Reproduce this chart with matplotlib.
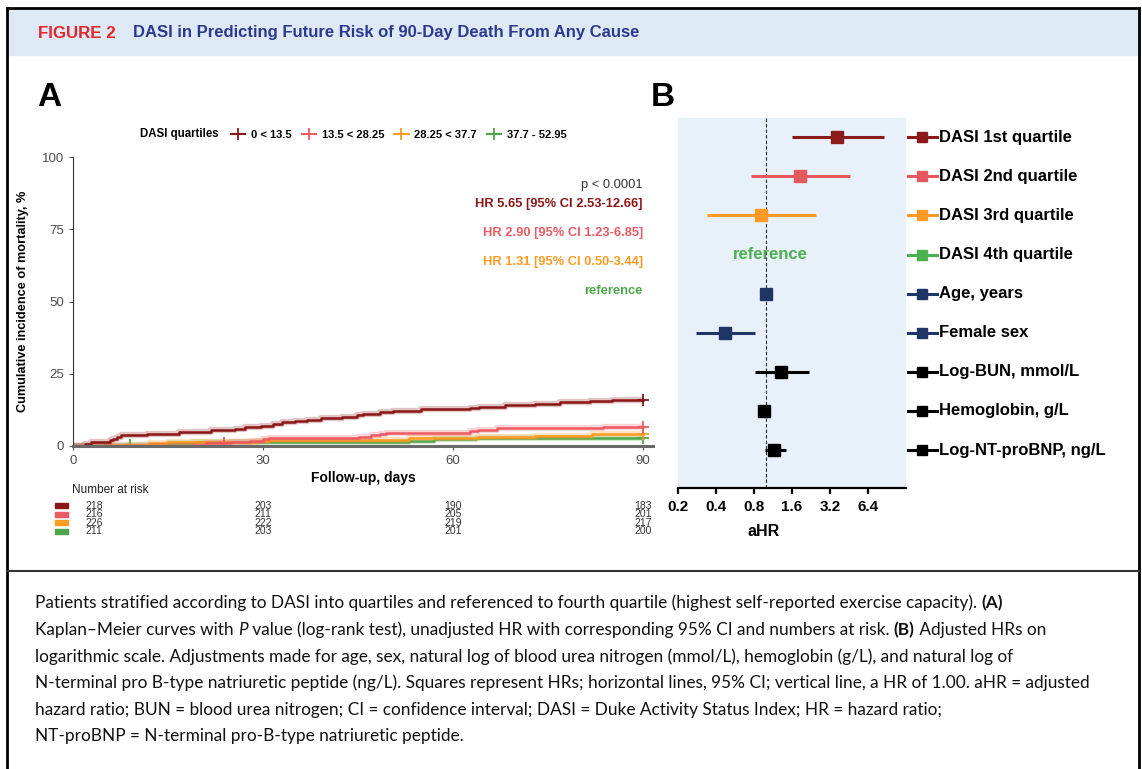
import numpy as np
import matplotlib.pyplot as plt
from matplotlib.patches import Rectangle
from matplotlib.lines import Line2D
import matplotlib.transforms as mtransforms

# ---------------- data ----------------
# Kaplan-Meier cumulative incidence (%), step changes
q1_days = [0, 1.9, 2.9, 5.8, 6.3, 7.0, 7.6, 11.7, 16.8, 21.8, 25.6, 27.2, 29.7, 31.6, 33.0,
           35.0, 37.0, 39.1, 42.5, 44.8, 45.8, 48.5, 50.6, 55.0, 62.7, 64.1, 68.2, 72.9,
           76.9, 81.7, 85.1]
q1_pct = [0, 0.8, 1.4, 2.0, 2.5, 3.1, 3.7, 4.3, 4.7, 5.5, 6.0, 6.6, 7.0, 7.6, 8.2,
          8.6, 9.1, 9.6, 10.1, 10.6, 11.1, 11.6, 12.1, 12.7, 13.1, 13.6, 14.1, 14.6,
          15.2, 15.7, 16.0]
q2_days = [0, 19.0, 21.0, 25.0, 28.0, 30.0, 31.0, 45.2, 47.0, 48.4, 49.5, 62.7, 64.0, 67.0, 83.7]
q2_pct = [0, 0.5, 0.9, 1.4, 1.9, 2.3, 2.8, 3.2, 3.7, 4.2, 4.6, 5.1, 5.6, 6.1, 6.5]
q3_days = [0, 4.9, 12.0, 15.0, 29.0, 31.0, 53.0, 64.0, 73.0, 82.0]
q3_pct = [0, 0.45, 0.9, 1.3, 1.8, 2.2, 2.7, 3.1, 3.5, 4.0]
q4_days = [0, 8.5, 15.0, 19.0, 53.0, 57.0, 63.7]
q4_pct = [0, 0.5, 0.9, 1.4, 1.9, 2.4, 2.8]
q1_censor = [90]
q2_censor = [23.9, 90]
q3_censor = [90]
q4_censor = [9.0, 90]

quartile_labels = ["0 < 13.5", "13.5 < 28.25", "28.25 < 37.7", "37.7 - 52.95"]
km_colors = ["#8b1616", "#ee5a62", "#ff9a22", "#4ea64a"]

hr_texts = ["HR 5.65 [95% CI 2.53-12.66]", "HR 2.90 [95% CI 1.23-6.85]",
            "HR 1.31 [95% CI 0.50-3.44]", "reference"]

risk_days = [0, 30, 60, 90]
risk_q1 = [218, 203, 190, 183]
risk_q2 = [216, 211, 205, 201]
risk_q3 = [226, 222, 219, 217]
risk_q4 = [211, 203, 201, 200]

# Forest plot: adjusted HR with 95% CI
forest_labels = ["DASI 1st quartile", "DASI 2nd quartile", "DASI 3rd quartile",
                 "DASI 4th quartile", "Age, years", "Female sex", "Log-BUN, mmol/L",
                 "Hemoglobin, g/L", "Log-NT-proBNP, ng/L"]
forest_hr = [3.65, 1.85, 0.91, np.nan, 1.00, 0.47, 1.32, 0.96, 1.16]
forest_lo = [1.59, 0.76, 0.34, np.nan, 0.98, 0.28, 0.81, 0.94, 0.97]
forest_hi = [8.62, 4.58, 2.50, np.nan, 1.03, 0.81, 2.19, 0.99, 1.44]
forest_colors = ["#8b1a1a", "#e5585f", "#ff9a26", "#4caf50", "#1f3566", "#1f3566",
                 "black", "black", "black"]
forest_ticks = [0.2, 0.4, 0.8, 1.6, 3.2, 6.4]

COND = ["Liberation Sans", "DejaVu Sans"]
ARIAL = ["Liberation Sans", "DejaVu Sans"]
CAP = ["Lato", "DejaVu Sans"]

W, H = 1142, 769
fig = plt.figure(figsize=(W / 100, H / 100), dpi=100)
renderer = fig.canvas.get_renderer()


def px_axes(x0, y0, x1, y1):
    return fig.add_axes([x0 / W, 1 - y1 / H, (x1 - x0) / W, (y1 - y0) / H])


def text_width(s, **kw):
    t = fig.text(0, 0, s + "|", **kw)
    w1 = t.get_window_extent(renderer=renderer).width
    t.remove()
    t = fig.text(0, 0, "|", **kw)
    w2 = t.get_window_extent(renderer=renderer).width
    t.remove()
    return w1 - w2


def fit_size(s, target, **kw):
    return 10 * target / text_width(s, fontsize=10, **kw)


# ---------------- frame, header ----------------
bg = fig.add_axes([0, 0, 1, 1])
bg.set_xlim(0, W)
bg.set_ylim(H, 0)
bg.axis("off")
bg.add_patch(Rectangle((7, 8), 1132, 47, color="#dde9f5", zorder=0))
bg.plot([7, 7], [8, H], color="black", lw=2)
bg.plot([1139, 1139], [8, H], color="black", lw=2)
bg.plot([7, 1139], [8, 8], color="black", lw=2)
bg.plot([7, 1139], [571, 571], color="#333333", lw=1.5)

fs_fig = fit_size("FIGURE 2", 82, family=ARIAL, fontweight="bold")
bg.text(38, 33, "FIGURE 2", color="#e4262c", fontsize=fs_fig * 0.95, family=ARIAL,
        fontweight="bold", va="center")
title = "DASI in Predicting Future Risk of 90-Day Death From Any Cause"
fs_title = fit_size(title, 508, family=COND, fontweight="bold")
bg.text(133, 33, title, color="#2b3990", fontsize=fs_title, family=COND,
        fontweight="bold", va="center")

bg.text(37, 98, "A", fontsize=24, fontweight="bold", family=ARIAL, va="center")
bg.text(651, 98, "B", fontsize=24, fontweight="bold", family=ARIAL, va="center")

# ---------------- panel A: Kaplan-Meier ----------------
axA = px_axes(73, 157, 653, 446)
axA.set_xlim(0, 90 * 580 / 570)
axA.set_ylim(0, 100)
series = [(q1_days, q1_pct, q1_censor), (q2_days, q2_pct, q2_censor),
          (q3_days, q3_pct, q3_censor), (q4_days, q4_pct, q4_censor)]
for (d, p, cens), c in zip(series[::-1], km_colors[::-1]):
    xs = d + [90]
    ys = p + [p[-1]]
    axA.step(xs, ys, where="post", color=c, lw=4.5, alpha=0.25, solid_capstyle="butt")
    axA.step(xs, ys, where="post", color=c, lw=1.8)
    for ct in cens:
        idx = np.searchsorted(d, ct, side="right") - 1
        axA.plot(ct, p[idx], marker="+", color=c, ms=8, mew=1.3)

for spine in ["top", "right"]:
    axA.spines[spine].set_visible(False)
axA.spines["left"].set_color("#333333")
axA.spines["left"].set_linewidth(0.8)
axA.spines["bottom"].set_color("#6a6a6a")
axA.spines["bottom"].set_linewidth(2.2)
axA.set_xticks([0, 30, 60, 90])
axA.set_yticks([0, 25, 50, 75, 100])
axA.tick_params(labelsize=9.5, colors="#4d4d4d", length=3, width=0.8)
for lab in axA.get_xticklabels() + axA.get_yticklabels():
    lab.set_family(COND)
axA.set_xlabel("Follow-up, days", fontsize=10, fontweight="bold", family=COND, labelpad=3)
axA.set_ylabel("Cumulative incidence of mortality, %", fontsize=9.2, fontweight="bold",
               family=ARIAL, labelpad=9)

ann_y = [83.7, 73.7, 63.7, 53.6]
axA.text(90, 90.3, "p < 0.0001", ha="right", va="center", fontsize=9.3, family=COND,
         color="#333333")
for txt, yy, c in zip(hr_texts, ann_y, km_colors):
    axA.text(90, yy, txt, ha="right", va="center", fontsize=9.3, family=COND,
             fontweight="bold", color=c)

# legend
bg.text(140, 134, "DASI quartiles", fontsize=8.3, fontweight="bold", family=COND, va="center")
handles = [Line2D([], [], color=c, marker="+", lw=1.5, ms=8, mew=1.3) for c in km_colors]
fig.legend(handles, quartile_labels, ncol=4, loc="center left",
           bbox_to_anchor=(231 / W, 1 - 134.5 / H), frameon=False, handlelength=1.3,
           handletextpad=0.5, columnspacing=0.9, borderaxespad=0, borderpad=0,
           prop={"family": COND, "weight": "bold", "size": 8.0})

# number at risk table
bg.text(72, 490, "Number at risk", fontsize=8.5, family=COND, va="center", color="#222222")
axR = px_axes(73, 501.5, 653, 535.5)
axR.set_xlim(axA.get_xlim())
axR.set_ylim(3.5, -0.5)
axR.axis("off")
shift = mtransforms.ScaledTranslation(12 / 100, 0, fig.dpi_scale_trans)
for i, (row, c) in enumerate(zip([risk_q1, risk_q2, risk_q3, risk_q4], km_colors)):
    bg.add_patch(Rectangle((55, 505.75 + 8.5 * i - 2.5), 13, 5, color=c))
    for d, n in zip(risk_days, row):
        if d == 0:
            axR.text(d, i, str(n), ha="left", va="center", fontsize=7.5, family=COND,
                     color="#333333", transform=axR.transData + shift)
        else:
            axR.text(d, i, str(n), ha="center", va="center", fontsize=7.5, family=COND,
                     color="#333333")

# ---------------- panel B: forest plot ----------------
axB = px_axes(678, 118, 906, 488)
axB.set_facecolor("#e8f1fa")
axB.set_xscale("log", base=2)
axB.set_xlim(0.2, 12.8)
n = len(forest_labels)
axB.set_ylim(8 + 38 / 39.1, -19.3 / 39.1)
axB.axvline(1.0, color="#222222", lw=0.8, ls=(0, (3, 2)), zorder=1)
for i in range(n):
    hr, lo, hi, c = forest_hr[i], forest_lo[i], forest_hi[i], forest_colors[i]
    if np.isnan(hr):
        continue
    axB.errorbar(hr, i, xerr=[[hr - lo], [hi - hr]], fmt="s", color=c, ms=8, lw=2.2,
                 capsize=0, zorder=3)
axB.text(1.08, 3, "reference", ha="center", va="center", color="#4caf50",
         fontsize=12, fontweight="bold", family=ARIAL)

trans = mtransforms.blended_transform_factory(axB.transAxes, axB.transData)
for i in range(n):
    c = forest_colors[i]
    axB.plot([1.009, 1.136], [i, i], transform=trans, color=c, lw=2.2, clip_on=False)
    axB.plot([1.072], [i], transform=trans, color=c, marker="s", ms=7.2, clip_on=False)
    axB.text(1.145, i, forest_labels[i], transform=trans, va="center", ha="left",
             fontsize=12, fontweight="bold", family=ARIAL)

for spine in ["top", "right", "left"]:
    axB.spines[spine].set_visible(False)
axB.spines["bottom"].set_linewidth(1.6)
axB.set_yticks([])
axB.set_xticks(forest_ticks)
axB.set_xticklabels([f"{v:g}" for v in forest_ticks])
axB.xaxis.set_minor_locator(plt.NullLocator())
axB.tick_params(axis="x", length=4.5, width=1.6, pad=4, labelsize=11)
for lab in axB.get_xticklabels():
    lab.set_fontweight("bold")
    lab.set_family(ARIAL)
axB.set_xlabel("aHR", fontsize=11.5, fontweight="bold", family=ARIAL)
axB.xaxis.set_label_coords((764 - 678) / 228, -(532 - 488) / 370)
axB.xaxis.label.set_va("center")

# ---------------- caption ----------------
R, B, I = {}, {"fontweight": "bold"}, {"fontstyle": "italic"}
caption = [
    [("Patients stratified according to DASI into quartiles and referenced to fourth quartile "
      "(highest self-reported exercise capacity). ", R), ("(A)", B)],
    [("Kaplan\u2013Meier curves with ", R), ("P", I),
     (" value (log-rank test), unadjusted HR with corresponding 95% CI and numbers at risk. ", R),
     ("(B)", B), (" Adjusted HRs on", R)],
    [("logarithmic scale. Adjustments made for age, sex, natural log of blood urea nitrogen "
      "(mmol/L), hemoglobin (g/L), and natural log of", R)],
    [("N-terminal pro B-type natriuretic peptide (ng/L). Squares represent HRs; horizontal lines, "
      "95% CI; vertical line, a HR of 1.00. aHR = adjusted", R)],
    [("hazard ratio; BUN = blood urea nitrogen; CI = confidence interval; DASI = Duke Activity "
      "Status Index; HR = hazard ratio;", R)],
    [("NT-proBNP = N-terminal pro-B-type natriuretic peptide.", R)],
]
cap_fs = fit_size(caption[3][0][0], 1053, family=CAP)
cap_y = [603, 630, 656.5, 683, 709.5, 736]
for runs, yy in zip(caption, cap_y):
    x = 35
    for s, st in runs:
        bg.text(x, yy, s, fontsize=cap_fs, family=CAP, va="center", color="#111111", **st)
        x += text_width(s, fontsize=cap_fs, family=CAP, **st)

fig.savefig("out.png", dpi=100)
